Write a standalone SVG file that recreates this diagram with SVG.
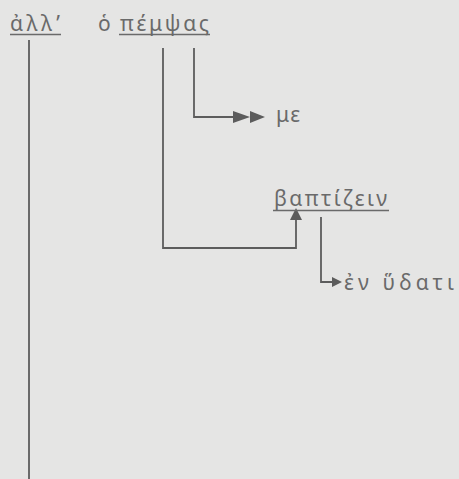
<svg xmlns="http://www.w3.org/2000/svg" width="459" height="479" viewBox="0 0 459 479">
<style>
.t{font-family:"Noto Sans","DejaVu Sans",sans-serif;font-size:21px;fill:#6a6a6a}
.u{stroke:#6a6a6a;stroke-width:1.6}
.c{fill:none;stroke:#5c5c5c;stroke-width:1.8}
.ah{fill:#5c5c5c}
</style>
<rect width="459" height="479" fill="#e5e5e4"/>
<g id="connectors">
<line class="c" x1="29" y1="40" x2="29" y2="479"/>
<polyline class="c" points="163,48 163,248 296,248 296,219"/>
<polygon class="ah" points="290,220 296,208 302,220"/>
<polyline class="c" points="194,48 194,117 234,117"/>
<polygon class="ah" points="233,111 250,117 233,123"/>
<polygon class="ah" points="250,111 265,117 250,123"/>
<polyline class="c" points="321,217 321,282 333,282"/>
<polygon class="ah" points="332,277 342,282 332,287"/>
</g>
<g id="n-all">
<text class="t" x="10" y="31" textLength="50" lengthAdjust="spacing">ἀλλ’</text>
<line class="u" x1="10" y1="34.5" x2="61" y2="34.5"/>
</g>
<g id="n-ho">
<text class="t" x="98" y="31">ὁ</text>
</g>
<g id="n-pempsas">
<text class="t" x="120" y="31" textLength="89" lengthAdjust="spacing">πέμψας</text>
<line class="u" x1="119" y1="34.5" x2="210" y2="34.5"/>
</g>
<g id="n-me">
<text class="t" x="276" y="122" textLength="24" lengthAdjust="spacing">με</text>
</g>
<g id="n-baptizein">
<text class="t" x="274" y="206" textLength="113" lengthAdjust="spacing">βαπτίζειν</text>
<line class="u" x1="273" y1="210.5" x2="389" y2="210.5"/>
</g>
<g id="n-en-hudati">
<text class="t" x="344" y="290" textLength="110" lengthAdjust="spacing">ἐν ὕδατι</text>
</g>
</svg>
